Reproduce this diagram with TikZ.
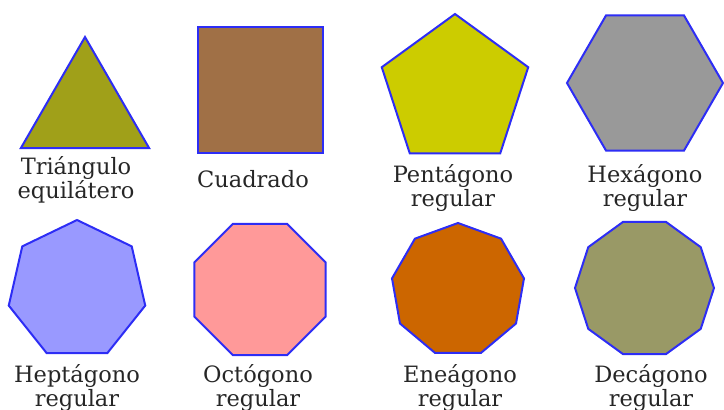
\documentclass[tikz,border=0pt]{standalone}
\usepackage{fontspec}
\setmainfont{DejaVu Serif}
\usepackage{tikz}
\usetikzlibrary{shapes.geometric}
\definecolor{edge}{RGB}{45,45,245}
\definecolor{ctri}{RGB}{160,160,25}
\definecolor{csq}{RGB}{160,112,70}
\definecolor{cpent}{RGB}{204,204,0}
\definecolor{chex}{RGB}{153,153,153}
\definecolor{chept}{RGB}{153,153,255}
\definecolor{coct}{RGB}{255,153,153}
\definecolor{cnon}{RGB}{204,102,0}
\definecolor{cdec}{RGB}{153,153,102}
\tikzset{
  poly/.style={regular polygon,regular polygon sides=#1,draw=edge,line width=2pt,inner sep=0pt,outer sep=0pt},
  lab/.style ={anchor=base,align=center,inner sep=0pt,text=black!85,font=\fontsize{22.5}{21}\selectfont},
}
\begin{document}
\begin{tikzpicture}[x=1pt,y=-1pt]
  \useasboundingbox (0,0) rectangle (724,410);
  \node[poly=3,fill=ctri, minimum size=148pt] (tri)  at (85,111)    {};
  \node[poly=4,fill=csq,  minimum size=177pt] (sq)   at (260.5,90)  {};
  \node[poly=5,fill=cpent,minimum size=154pt] (pent) at (455,91)    {};
  \node[poly=6,fill=chex, minimum size=156pt] (hex)  at (645,83)    {};
  \node[poly=7,fill=chept,minimum size=140pt] (hept) at (77,290)    {};
  \node[poly=8,fill=coct, minimum size=142pt] (oct)  at (260,289.5) {};
  \node[poly=9,fill=cnon, minimum size=134pt] (non)  at (458,290)   {};
  \node[poly=10,fill=cdec,minimum size=139pt] (dec)  at (644.5,288) {};
  \node[lab] (ltri)  at (76,198)  {Triángulo\\equilátero};
  \node[lab] (lsq)   at (253,187) {Cuadrado};
  \node[lab] (lpent) at (453,206) {Pentágono\\regular};
  \node[lab] (lhex)  at (645,206) {Hexágono\\regular};
  \node[lab] (lhept) at (77,406)  {Heptágono\\regular};
  \node[lab] (loct)  at (258,406) {Octógono\\regular};
  \node[lab] (lnon)  at (460,406) {Eneágono\\regular};
  \node[lab] (ldec)  at (651,406) {Decágono\\regular};
\end{tikzpicture}
\end{document}
